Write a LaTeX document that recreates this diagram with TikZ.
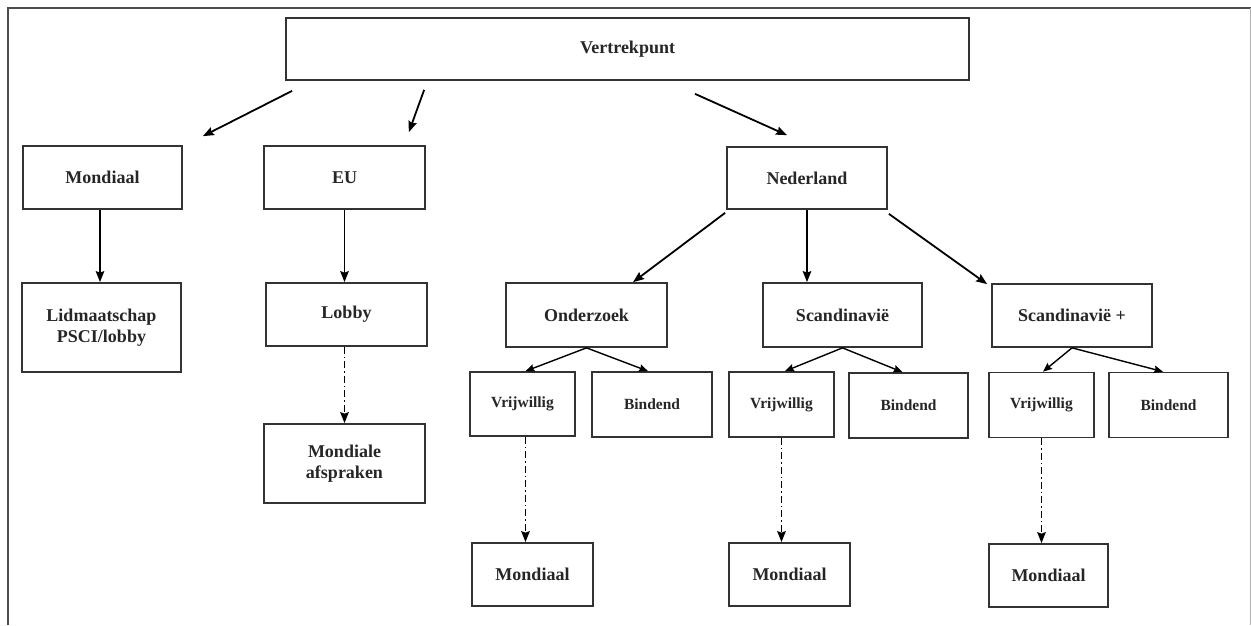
\documentclass[tikz,border=0pt]{standalone}
\usepackage{fontspec}
\setmainfont{Liberation Serif}
\usetikzlibrary{arrows.meta}
\begin{document}
\begin{tikzpicture}[x=1pt,y=-1pt,
  box/.style={draw=black!80, line width=1.7pt, inner sep=0pt, align=center,
    font=\fontsize{18}{21}\selectfont\bfseries, text=black!85},
  sbox/.style={box, font=\fontsize{15.5}{18}\selectfont\bfseries},
  arr/.style={line width=1.8pt, -{Stealth[length=11pt,width=8.5pt,inset=1.5pt]}},
  sarr/.style={line width=1.4pt, -{Stealth[length=9pt,width=7.5pt,inset=1.2pt]}},
  dd/.style={line width=1.6pt, dash pattern=on 7pt off 3pt on 1.5pt off 3pt,
    -{Stealth[length=11pt,width=8.5pt,inset=1.5pt]}}]
\useasboundingbox (0,0) rectangle (1251,625);
% frame
\draw[black!70, line width=1.8pt] (8,625) -- (8,8) -- (1251,8);
\draw[black!30, line width=1pt] (1250,8) -- (1250,625);
% nodes
\node[box, minimum width=683pt, minimum height=62pt] (v) at (627.5,49) {Vertrekpunt};
\node[box, minimum width=159pt, minimum height=63pt] (m1) at (102.5,177.5) {Mondiaal};
\node[box, minimum width=161pt, minimum height=63pt] (eu) at (344.5,177.5) {EU};
\node[box, minimum width=159pt, minimum height=89pt] (lid) at (101.5,327.5) {Lidmaatschap\\PSCI/lobby};
\node[box, minimum width=161pt, minimum height=63pt] (lobby) at (346.5,314.5) {Lobby};
\node[box, minimum width=161pt, minimum height=79pt] (ma) at (344.5,463.5) {Mondiale\\afspraken};
\node[box, minimum width=160pt, minimum height=62pt] (ned) at (807,178) {Nederland};
\node[box, minimum width=161pt, minimum height=64pt] (ond) at (586.5,315) {Onderzoek};
\node[box, minimum width=159pt, minimum height=64pt] (sca) at (842.5,315) {Scandinavië};
\node[box, minimum width=160pt, minimum height=63pt] (scp) at (1072,315.5) {Scandinavië +};
\node[sbox, minimum width=105pt, minimum height=64pt] (v1) at (522.5,404) {Vrijwillig};
\node[sbox, minimum width=120pt, minimum height=65pt] (b1) at (652,404.5) {Bindend};
\node[sbox, minimum width=105pt, minimum height=65pt] (v2) at (781.5,404.5) {Vrijwillig};
\node[sbox, minimum width=119pt, minimum height=65pt] (b2) at (908.5,405.5) {Bindend};
\node[sbox, minimum width=105pt, minimum height=65pt] (v3) at (1041.5,405) {Vrijwillig};
\node[sbox, minimum width=119pt, minimum height=65pt] (b3) at (1168.5,405) {Bindend};
\node[box, minimum width=121pt, minimum height=63pt] (mo1) at (532.5,574.5) {Mondiaal};
\node[box, minimum width=121pt, minimum height=63pt] (mo2) at (789.5,574.5) {Mondiaal};
\node[box, minimum width=119pt, minimum height=63pt] (mo3) at (1048.5,575.5) {Mondiaal};
% connectors
\draw[arr] ([xshift=7pt,yshift=-10pt]v.south west) -- ([xshift=20pt,yshift=9pt]m1.north east);
\draw[arr] ([xshift=139pt,yshift=-9pt]v.south west) -- ([xshift=-17pt,yshift=13pt]eu.north east);
\draw[arr] ([xshift=67.5pt,yshift=-13pt]v.south) -- ([xshift=-20pt,yshift=11pt]ned.north);
\draw[arr] ([xshift=-2.5pt]m1.south) -- ([xshift=-2.5pt]m1.south |- lid.north);
\draw[arr] (eu.south) -- (eu.south |- lobby.north);
\draw[dd] (ma.north |- lobby.south) -- (ma.north);
\draw[arr] ([xshift=-1pt,yshift=-3pt]ned.south west) -- ([xshift=46.5pt]ond.north);
\draw[arr] (ned.south) -- (ned.south |- sca.north);
\draw[arr] ([xshift=1pt,yshift=-4pt]ned.south east) -- ([xshift=-4pt,yshift=-1pt]scp.north west);
\draw[sarr] (ond.south) -- ([xshift=3pt]v1.north);
\draw[sarr] (ond.south) -- ([xshift=-4pt]b1.north);
\draw[dd] ([xshift=3pt]v1.south) -- ([xshift=3pt]v1.south |- mo1.north);
\draw[sarr] (sca.south) -- ([xshift=3.5pt]v2.north);
\draw[sarr] (sca.south) -- ([xshift=-6pt]b2.north);
\draw[dd] (v2.south) -- (v2.south |- mo2.north);
\draw[sarr] (scp.south) -- ([xshift=1.5pt]v3.north);
\draw[sarr] (scp.south) -- ([xshift=-5.5pt]b3.north);
\draw[dd] (v3.south) -- (v3.south |- mo3.north);
\end{tikzpicture}
\end{document}
